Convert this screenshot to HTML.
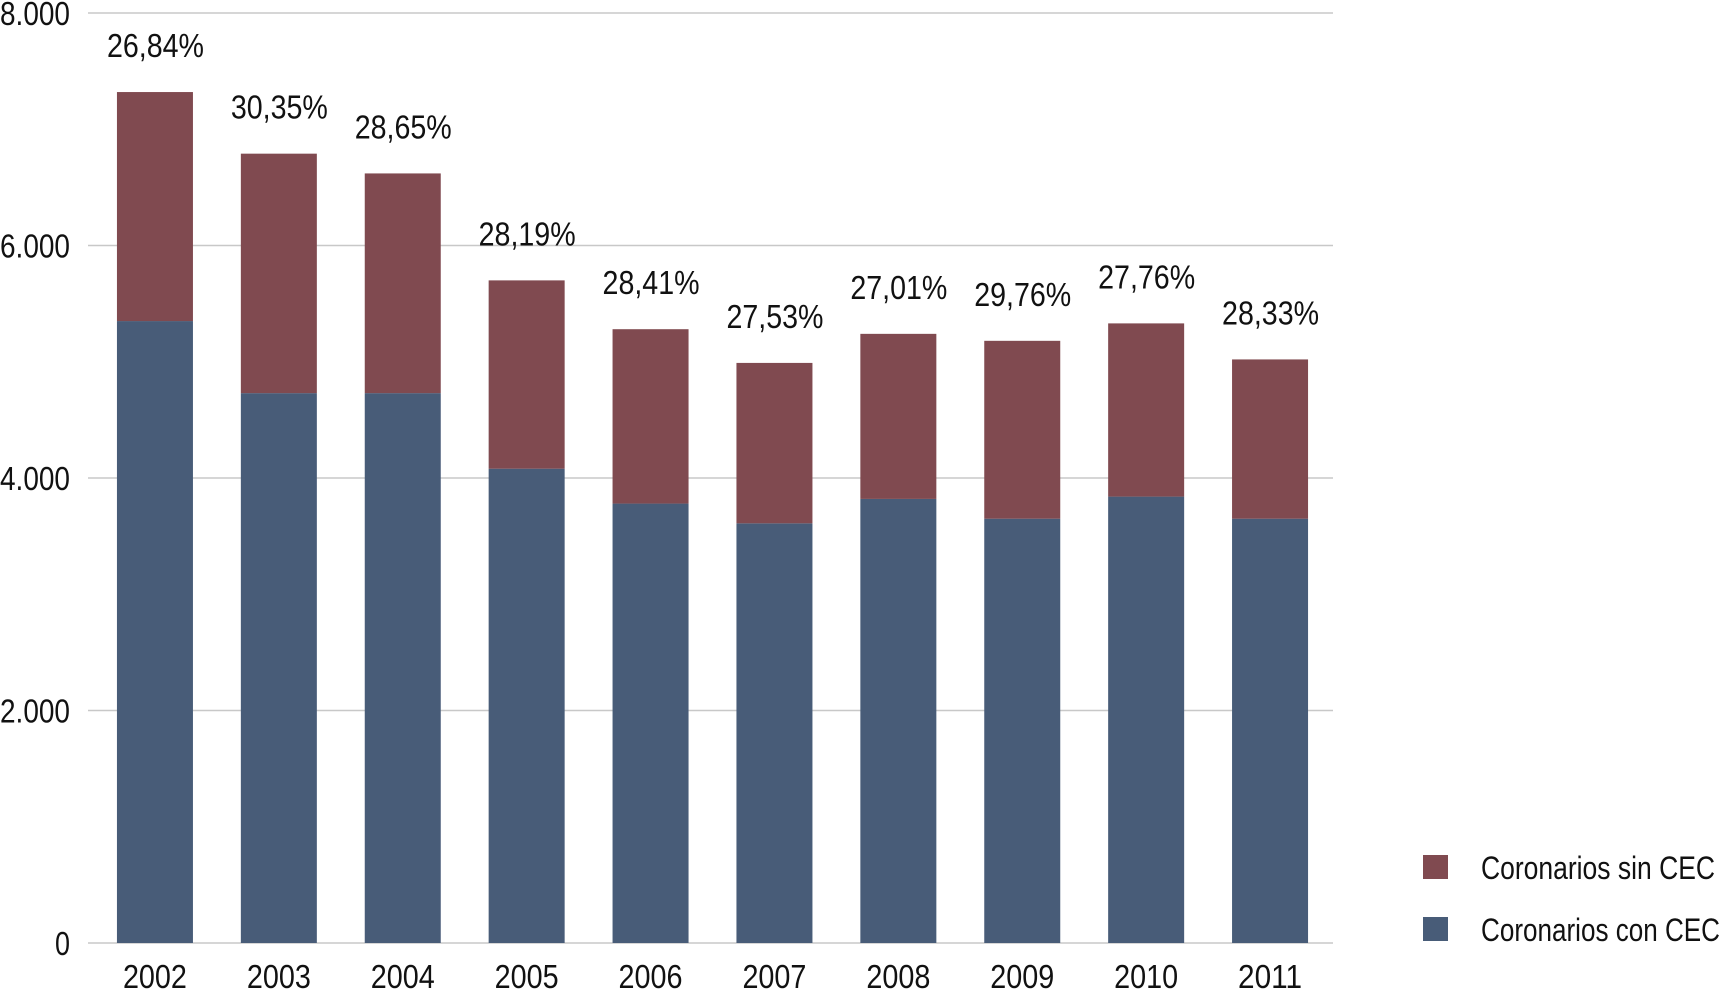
<!DOCTYPE html>
<html><head><meta charset="utf-8">
<style>
body{margin:0;background:#fff;}
svg{display:block;font-family:"Liberation Sans Narrow","Liberation Sans",sans-serif;}
</style></head>
<body>
<svg id="chart" width="1725" height="990" viewBox="0 0 1725 990" xmlns="http://www.w3.org/2000/svg">
<g id="grid"></g>
<g id="yticks"></g>
<g id="bars"></g>
<g id="xticks"></g>
<g>
  <rect x="1423" y="855" width="25" height="24" fill="#804a50"/>
  <text x="1481" y="879" font-size="32" fill="#111" textLength="234" lengthAdjust="spacingAndGlyphs">Coronarios sin CEC</text>
  <rect x="1423" y="917" width="25" height="24" fill="#485c78"/>
  <text x="1481" y="941" font-size="32" fill="#111" textLength="239" lengthAdjust="spacingAndGlyphs">Coronarios con CEC</text>
</g>
</svg>
<script>
const years = ["2002","2003","2004","2005","2006","2007","2008","2009","2010","2011"];
const conCEC = [5350,4730,4730,4080,3780,3610,3820,3650,3840,3650];
const sinCEC = [1970,2060,1890,1620,1500,1380,1420,1530,1490,1370];
const pctLabels = ["26,84%","30,35%","28,65%","28,19%","28,41%","27,53%","27,01%","29,76%","27,76%","28,33%"];
const yTicks = [0,2000,4000,6000,8000];
const yTickLabels = ["0","2.000","4.000","6.000","8.000"];

const NS="http://www.w3.org/2000/svg";
const gx0=88,gx1=1333,x0=93,x1=1332,yBase=943,yTop=13,yMax=8000;
const band=(x1-x0)/years.length, bw=76;
const y=v=>yBase-(v/yMax)*(yBase-yTop);
const xc=i=>x0+band*(i+0.5);
function mk(tag,attrs,parent){const e=document.createElementNS(NS,tag);for(const k in attrs)e.setAttribute(k,attrs[k]);parent.appendChild(e);return e;}
const grid=document.getElementById('grid'),yt=document.getElementById('yticks'),bars=document.getElementById('bars'),xt=document.getElementById('xticks');
yTicks.forEach((t,i)=>{
  const l=mk('line',{x1:gx0,x2:gx1,y1:y(t),y2:y(t),stroke:'#c8c8c8','stroke-width':1.5},grid);
  
  
  const lab=yTickLabels[i];
  const w=lab.length===1?15:70;
  const tx=mk('text',{x:70-w,y:y(t)+12,'font-size':33,fill:'#111',textLength:w,lengthAdjust:'spacingAndGlyphs'},yt);
  tx.textContent=lab;
  
  
});
years.forEach((yr,i)=>{
  const c=xc(i);
  const b1=mk('rect',{x:c-bw/2,y:y(conCEC[i]),width:bw,height:yBase-y(conCEC[i]),fill:'#485c78'},bars);
  
  
  const tot=conCEC[i]+sinCEC[i];
  const b2=mk('rect',{x:c-bw/2,y:y(tot),width:bw,height:y(conCEC[i])-y(tot),fill:'#804a50'},bars);
  
  
  const p=mk('text',{x:c-48,y:y(tot)-35,'font-size':33,fill:'#111',textLength:97,lengthAdjust:'spacingAndGlyphs'},bars);
  p.textContent=pctLabels[i];
  
  
  const t=mk('text',{x:c-32,y:988,'font-size':33,fill:'#111',textLength:64,lengthAdjust:'spacingAndGlyphs'},xt);
  t.textContent=yr;
  
  
});
</script>
</body></html>
